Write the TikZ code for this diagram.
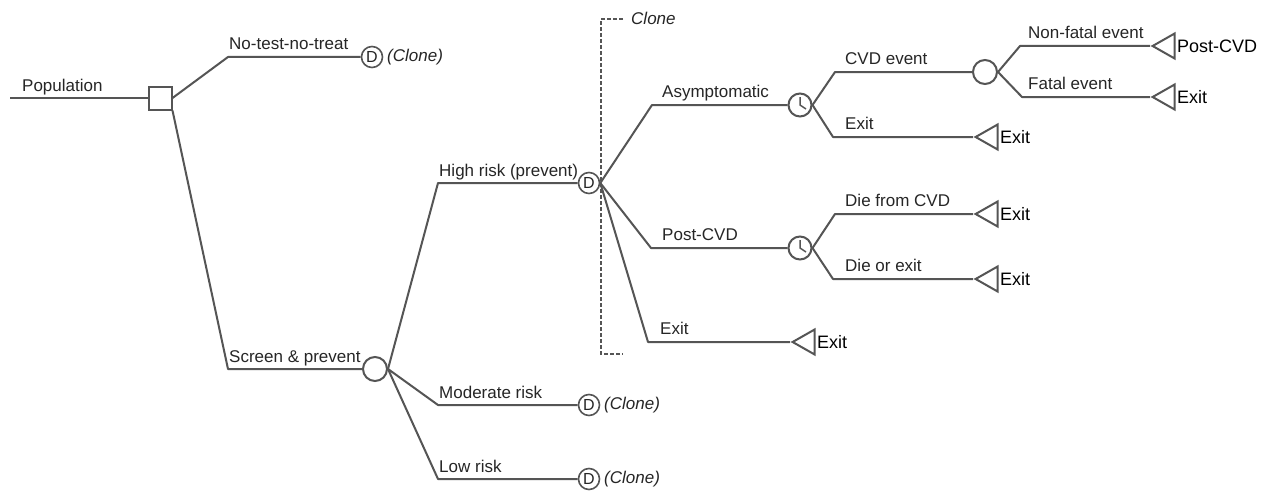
\documentclass[tikz,border=0pt]{standalone}
\usepackage{fontspec}
\setmainfont{Liberation Sans}
\usetikzlibrary{shapes.geometric}
\definecolor{lc}{HTML}{555555}
\definecolor{tc}{HTML}{262626}
\begin{document}
\begin{tikzpicture}[x=1pt,y=-1pt,
  edge/.style={draw=lc, line width=2pt, line join=round},
  lbl/.style={anchor=base west, inner sep=0pt, text=tc, font=\fontsize{17}{20}\selectfont},
  clonelbl/.style={anchor=west, inner sep=0pt, text=tc, font=\fontsize{17}{20}\selectfont\itshape},
  termlbl/.style={anchor=west, inner sep=0pt, text=black, font=\fontsize{18}{20}\selectfont},
  decbox/.style={rectangle, draw=lc, line width=2pt, minimum size=23pt, inner sep=0pt, fill=white},
  chance/.style={circle, draw=lc, line width=2pt, minimum size=24pt, inner sep=0pt, fill=white},
  dnode/.style={circle, draw=lc, line width=1.6pt, minimum size=21pt, inner sep=0pt, fill=white, text=tc, font=\fontsize{16}{16}\selectfont},
  clock/.style={circle, draw=lc, line width=2pt, minimum size=23pt, inner sep=0pt, fill=white,
    path picture={\draw[lc, line width=1.5pt] (path picture bounding box.center) ++(0,-8) -- (path picture bounding box.center) -- ++(6,4);}},
  term/.style={isosceles triangle, isosceles triangle stretches, shape border rotate=180, minimum width=25pt, minimum height=22pt, inner sep=0pt, draw=lc, line width=2pt, fill=white},
  bracket/.style={draw=lc, line width=1.5pt, dash pattern=on 4pt off 2pt}
]
\fill[white] (0,0) rectangle (1284,495);
\useasboundingbox (0,0) rectangle (1284,495);

% root
\coordinate (p0) at (10,98);
\node[decbox] (sq) at (160,98) {};
\node[lbl] (lpop) at (22,91) {Population};
\draw[edge] (p0) -- (sq);

% no-test-no-treat
\coordinate (bnt) at (228,57);
\node[dnode] (dnt) at (372,57) {D};
\node[lbl] (lnt) at (229,50) {No-test-no-treat};
\node[clonelbl] (cnt) at (387,57) {(Clone)};
\draw[edge] (sq.east) -- (bnt) -- (dnt);

% screen & prevent
\coordinate (bsp) at (228,369);
\node[chance] (csp) at (375,369) {};
\node[lbl] (lsp) at (229,362) {Screen \& prevent};
\draw[edge] (sq.south east) -- (bsp) -- (csp);

% risk groups
\coordinate (bhr) at (438,183);
\node[dnode] (dhr) at (589,183) {D};
\node[lbl] (lhr) at (439,176) {High risk (prevent)};
\draw[edge] (csp.east) -- (bhr) -- (dhr);

\coordinate (bmr) at (438,405);
\node[dnode] (dmr) at (589,405) {D};
\node[lbl] (lmr) at (439,398) {Moderate risk};
\node[clonelbl] (cmr) at (604,405) {(Clone)};
\draw[edge] (csp.east) -- (bmr) -- (dmr);

\coordinate (blr) at (438,479);
\node[dnode] (dlr) at (589,479) {D};
\node[lbl] (llr) at (439,472) {Low risk};
\node[clonelbl] (clr) at (604,479) {(Clone)};
\draw[edge] (csp.east) -- (blr) -- (dlr);

% clone bracket
\coordinate (k1) at (623,19);
\coordinate (k2) at (601,19);
\coordinate (k3) at (601,354);
\coordinate (k4) at (623,354);
\draw[bracket] (k1) -- (k2) -- (k3) -- (k4);
\node[clonelbl] (lclone) at (631,18) {Clone};

% high risk subtree
\coordinate (bas) at (652,105);
\node[clock] (kas) at (800,105) {};
\node[lbl] (las) at (662,97) {Asymptomatic};
\draw[edge] (dhr.east) -- (bas) -- (kas);

\coordinate (bpc) at (651,248);
\node[clock] (kpc) at (800,248) {};
\node[lbl] (lpc) at (662,240) {Post-CVD};
\draw[edge] (dhr.east) -- (bpc) -- (kpc);

\coordinate (bex) at (648,342);
\node[term, anchor=apex] (tex) at (790,342) {};
\node[lbl] (lex) at (660,334) {Exit};
\node[termlbl] (xex) at (817,342) {Exit};
\draw[edge] (dhr.east) -- (bex) -- (tex.apex);

% asymptomatic branches
\coordinate (bcvd) at (835,72);
\node[chance] (ccvd) at (985,72) {};
\node[lbl] (lcvd) at (845,64) {CVD event};
\draw[edge] (kas.east) -- (bcvd) -- (ccvd);

\coordinate (bae) at (833,137);
\node[term, anchor=apex] (tae) at (973,137) {};
\node[lbl] (lae) at (845,129) {Exit};
\node[termlbl] (xae) at (1000,137) {Exit};
\draw[edge] (kas.east) -- (bae) -- (tae.apex);

% cvd event branches
\coordinate (bnf) at (1020,46);
\node[term, anchor=apex] (tnf) at (1150,46) {};
\node[lbl] (lnf) at (1028,38) {Non-fatal event};
\node[termlbl] (xnf) at (1177,46) {Post-CVD};
\draw[edge] (ccvd.east) -- (bnf) -- (tnf.apex);

\coordinate (bf) at (1022,97);
\node[term, anchor=apex] (tf) at (1150,97) {};
\node[lbl] (lf) at (1028,89) {Fatal event};
\node[termlbl] (xf) at (1177,97) {Exit};
\draw[edge] (ccvd.east) -- (bf) -- (tf.apex);

% post-cvd branches
\coordinate (bdc) at (835,214);
\node[term, anchor=apex] (tdc) at (973,214) {};
\node[lbl] (ldc) at (845,206) {Die from CVD};
\node[termlbl] (xdc) at (1000,214) {Exit};
\draw[edge] (kpc.east) -- (bdc) -- (tdc.apex);

\coordinate (bde) at (833,279);
\node[term, anchor=apex] (tde) at (973,279) {};
\node[lbl] (lde) at (845,271) {Die or exit};
\node[termlbl] (xde) at (1000,279) {Exit};
\draw[edge] (kpc.east) -- (bde) -- (tde.apex);
\end{tikzpicture}
\end{document}
